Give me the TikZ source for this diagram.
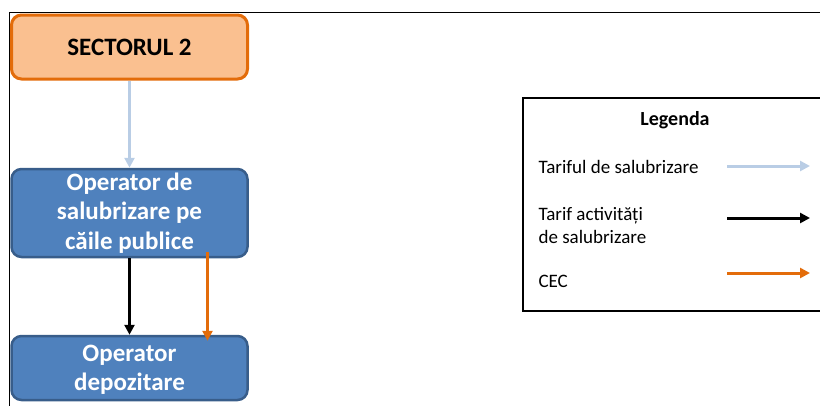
\documentclass[tikz,border=0pt]{standalone}
\usepackage{fontspec}
\setmainfont{Carlito}
\usetikzlibrary{arrows.meta,positioning,calc}
\definecolor{orangeline}{HTML}{E36C0A}
\definecolor{orangefill}{HTML}{FAC090}
\definecolor{bluefill}{HTML}{4F81BD}
\definecolor{blueline}{HTML}{385D8A}
\definecolor{lightblue}{HTML}{B9CDE5}
\begin{document}
\begin{tikzpicture}[x=1pt,y=-1pt,>={Triangle[length=10pt,width=10pt]},
	box/.style={rounded corners=10pt,line width=2.5pt,minimum width=236pt,align=center,
		fill=bluefill,draw=blueline,text=white,font=\bfseries\fontsize{25}{29.5}\selectfont},
	flow/.style={->,line width=3pt},
	legtext/.style={anchor=west,align=left,font=\fontsize{19}{23}\selectfont}]
	\useasboundingbox (0,0) rectangle (820,405);
	\clip (0,0) rectangle (820,405);
	\draw[line width=1pt] (9,410) -- (9,12.5) -- (825,12.5);
	% boxes
	\node[box,minimum height=64pt,fill=orangefill,draw=orangeline,line width=3pt,text=black,
		font=\bfseries\fontsize{25}{29}\selectfont] (sector) at (129.5,47) {SECTORUL 2};
	\node[box,minimum height=88pt] (strada) at (129.5,213) {Operator de\\salubrizare pe\\căile publice};
	\node[box,minimum height=64pt,text depth=0pt] (depozit) at (129.5,368) {Operator\\depozitare};
	% flows
	\draw[flow,lightblue] (sector) -- (strada);
	\draw[flow,black] (strada) -- (depozit);
	\draw[flow,orangeline] ($(strada.south)+(78,-6)$) -- ($(depozit.north)+(78,6)$);
	% legend
	\draw[line width=1.5pt] (523,98) rectangle (830,311);
	\node[font=\bfseries\fontsize{20}{24}\selectfont] (legenda) at (675,120) {Legenda};
	\node[legtext] (tarif1) at (535,167) {Tariful de salubrizare};
	\node[legtext] (tarif2) at (535,225) {Tarif activități\\de salubrizare};
	\node[legtext] (cec) at (535,281) {CEC};
	\coordinate (a1) at (727,166);
	\coordinate (b1) at (810,166);
	\coordinate (a2) at (727,218);
	\coordinate (b2) at (810,218);
	\coordinate (a3) at (727,273);
	\coordinate (b3) at (810,273);
	\draw[flow,lightblue] (a1) -- (b1);
	\draw[flow,black] (a2) -- (b2);
	\draw[flow,orangeline] (a3) -- (b3);
\end{tikzpicture}
\end{document}
